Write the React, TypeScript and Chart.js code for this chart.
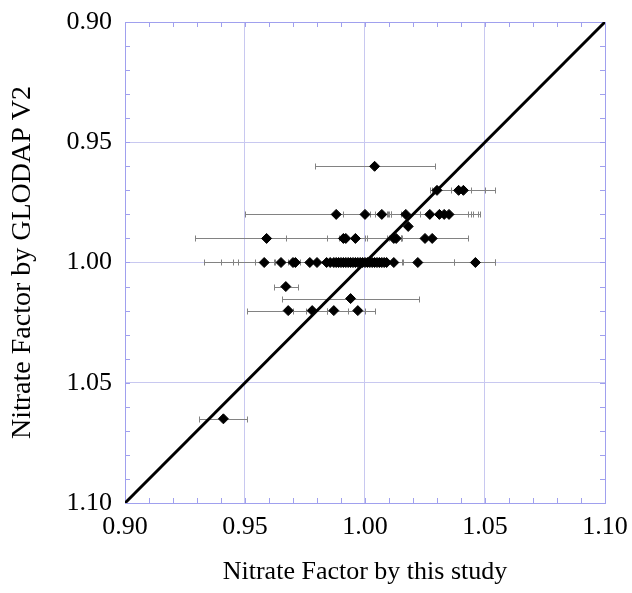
import React, { useEffect, useRef } from "react";
import { Chart, registerables } from "chart.js";

Chart.register(...registerables);

// Nitrate factor by this study (x) vs GLODAP V2 (y), with x error bounds
const xValues = [
  1.004,
  1.030, 1.039, 1.041,
  0.988, 1.000, 1.007, 1.017, 1.027, 1.031, 1.033, 1.035,
  1.018,
  0.959, 0.991, 0.992, 0.996, 1.012, 1.013, 1.025, 1.028,
  0.958, 0.965, 0.970, 0.971, 0.977, 0.980, 0.984, 0.9855, 0.987, 0.988, 0.989, 0.990,
  0.991, 0.992, 0.993, 0.994, 0.995, 0.996, 0.997, 0.998, 0.999, 1.000, 1.001, 1.002,
  1.003, 1.004, 1.005, 1.006, 1.007, 1.008, 1.009, 1.012, 1.022, 1.046,
  0.967,
  0.994,
  0.968, 0.978, 0.987, 0.997,
  0.941,
];
const yValues = [
  0.96,
  0.97, 0.97, 0.97,
  0.98, 0.98, 0.98, 0.98, 0.98, 0.98, 0.98, 0.98,
  0.985,
  0.99, 0.99, 0.99, 0.99, 0.99, 0.99, 0.99, 0.99,
  1.0, 1.0, 1.0, 1.0, 1.0, 1.0, 1.0, 1.0, 1.0, 1.0, 1.0, 1.0,
  1.0, 1.0, 1.0, 1.0, 1.0, 1.0, 1.0, 1.0, 1.0, 1.0, 1.0, 1.0,
  1.0, 1.0, 1.0, 1.0, 1.0, 1.0, 1.0, 1.0, 1.0, 1.0,
  1.01,
  1.015,
  1.02, 1.02, 1.02, 1.02,
  1.065,
];
const xLow = [
  0.979,
  1.027, 1.028, 1.036,
  0.950, 0.991, 1.002, 1.004, 1.010, 1.015, 1.011, 1.0095,
  1.018,
  0.929, 0.984, 0.989, 0.967, 1.009, 1.010, 1.025, 1.028,
  0.945, 0.962, 0.954, 0.9625, 0.947, 0.940, 0.984, 0.9855, 0.987, 0.988, 0.989, 0.990,
  0.991, 0.992, 0.933, 0.994, 0.995, 0.996, 0.997, 0.998, 0.999, 1.000, 1.001, 1.002,
  1.003, 1.004, 1.005, 1.006, 1.007, 1.008, 1.009, 1.012, 1.005, 1.037,
  0.962,
  0.9655,
  0.951, 0.9754, 0.970, 0.993,
  0.931,
];
const xHigh = [
  1.029,
  1.044, 1.054, 1.050,
  1.048, 1.009, 1.011, 1.023, 1.044, 1.045, 1.047, 1.043,
  1.018,
  1.043, 1.000, 1.001, 1.015, 1.0155, 1.015, 1.025, 1.028,
  0.968, 0.969, 0.9855, 0.973, 1.016, 1.0155, 0.984, 0.9855, 0.987, 0.988, 0.989, 0.990,
  0.991, 0.992, 1.054, 0.994, 0.995, 0.996, 0.997, 0.998, 0.999, 1.000, 1.001, 1.002,
  1.003, 1.004, 1.005, 1.006, 1.007, 1.008, 1.009, 1.012, 1.037, 1.054,
  0.972,
  1.0225,
  0.984, 0.984, 1.004, 1.000,
  0.951,
];

const lineX = [0.9, 1.1];
const lineY = [1.1, 0.9];

const axisMin = 0.9;
const axisMax = 1.1;
const majorStep = 0.05;
const minorCount = 20; // ticks every 0.01

const xTitle = "Nitrate Factor by this study";
const yTitle = "Nitrate Factor by GLODAP V2";

const FRAME = "rgb(160,160,238)";
const GRID = "rgb(200,200,240)";
const ERR = "rgb(130,130,130)";
const FONT = "'Liberation Serif', 'Times New Roman', serif";

const decorPlugin = {
  id: "decor",
  beforeDatasetsDraw(chart: any) {
    const { ctx, chartArea: a, scales } = chart;
    const x = scales.x;
    const y = scales.y;
    ctx.save();
    ctx.strokeStyle = FRAME;
    ctx.lineWidth = 1;
    ctx.strokeRect(Math.round(a.left) + 0.5, Math.round(a.top) + 0.5, Math.round(a.right - a.left), Math.round(a.bottom - a.top));
    const tl = 5;
    ctx.beginPath();
    for (let i = 1; i < minorCount; i++) {
      const v = axisMin + (i * (axisMax - axisMin)) / minorCount;
      const px = Math.round(x.getPixelForValue(v)) + 0.5;
      const py = Math.round(y.getPixelForValue(v)) + 0.5;
      ctx.moveTo(px, a.bottom); ctx.lineTo(px, a.bottom - tl);
      ctx.moveTo(px, a.top); ctx.lineTo(px, a.top + tl);
      ctx.moveTo(a.left, py); ctx.lineTo(a.left + tl, py);
      ctx.moveTo(a.right, py); ctx.lineTo(a.right - tl, py);
    }
    ctx.stroke();
    ctx.strokeStyle = ERR;
    ctx.beginPath();
    for (let i = 0; i < xValues.length; i++) {
      if (xHigh[i] - xLow[i] <= 0) continue;
      const py = Math.round(y.getPixelForValue(yValues[i])) + 0.5;
      const x1 = Math.round(x.getPixelForValue(xLow[i])) + 0.5;
      const x2 = Math.round(x.getPixelForValue(xHigh[i])) + 0.5;
      ctx.moveTo(x1, py); ctx.lineTo(x2, py);
      ctx.moveTo(x1, py - 3); ctx.lineTo(x1, py + 3);
      ctx.moveTo(x2, py - 3); ctx.lineTo(x2, py + 3);
    }
    ctx.stroke();
    ctx.restore();
  },
};

export default function App() {
  const ref = useRef<HTMLCanvasElement>(null);
  useEffect(() => {
    if (!ref.current) return;
    const points = xValues.map((v, i) => ({ x: v, y: yValues[i] }));
    const line = lineX.map((v, i) => ({ x: v, y: lineY[i] }));
    const tickFont = { family: FONT, size: 26 };
    const chart = new Chart(ref.current, {
      type: "scatter",
      data: {
        datasets: [
          {
            type: "line",
            data: line,
            borderColor: "#000",
            borderWidth: 3,
            pointRadius: 0,
            fill: false,
          } as any,
          {
            data: points,
            pointStyle: "rectRot",
            pointRadius: 5,
            backgroundColor: "#000",
            borderColor: "#000",
            borderWidth: 1,
          },
        ],
      },
      options: {
        animation: false,
        responsive: true,
        maintainAspectRatio: false,
        layout: { padding: { left: 0, top: 22, right: 27, bottom: 0 } },
        plugins: { legend: { display: false }, tooltip: { enabled: false } },
        scales: {
          x: {
            type: "linear",
            min: axisMin,
            max: axisMax,
            afterFit: (s: any) => {
              s.height = 90;
              s.paddingLeft = 0;
              s.paddingRight = 0;
            },
            border: { display: false },
            grid: { color: GRID, drawTicks: false },
            ticks: {
              stepSize: majorStep,
              padding: 9,
              color: "#000",
              font: tickFont,
              maxRotation: 0,
              callback: (v: any) => Number(v).toFixed(2),
            },
            title: {
              display: true,
              text: xTitle,
              color: "#000",
              font: { family: FONT, size: 26 },
              padding: { top: 0, bottom: 5 },
            },
          },
          y: {
            type: "linear",
            reverse: true,
            min: axisMin,
            max: axisMax,
            afterFit: (s: any) => {
              s.width = 125;
              s.paddingTop = 0;
              s.paddingBottom = 0;
            },
            border: { display: false },
            grid: { color: GRID, drawTicks: false },
            ticks: {
              stepSize: majorStep,
              padding: 13,
              color: "#000",
              font: tickFont,
              callback: (v: any) => Number(v).toFixed(2),
            },
            title: {
              display: true,
              text: yTitle,
              color: "#000",
              font: { family: FONT, size: 28 },
              padding: { top: 6, bottom: 0 },
            },
          },
        },
      },
      plugins: [decorPlugin],
    });
    return () => chart.destroy();
  }, []);
  return (
    <div style={{ position: "absolute", left: 0, top: 0, width: 632, height: 593 }}>
      <canvas ref={ref} />
    </div>
  );
}
